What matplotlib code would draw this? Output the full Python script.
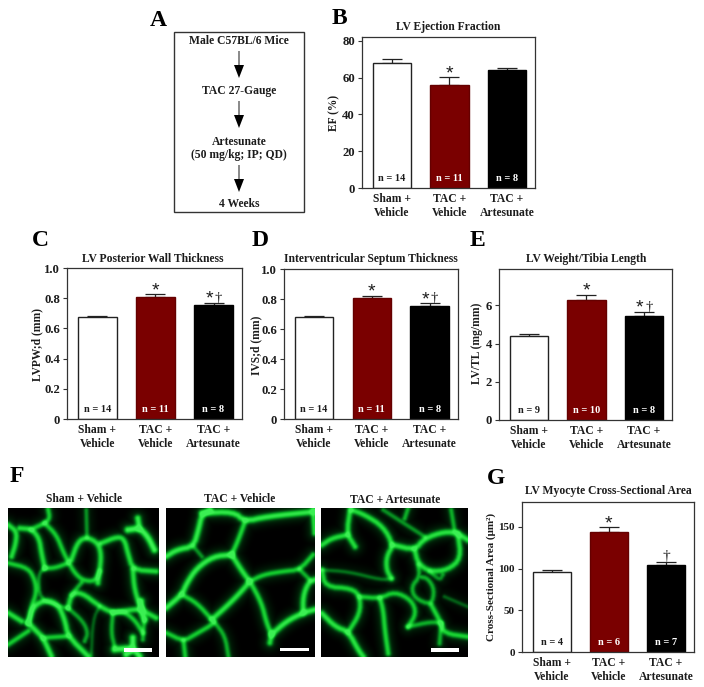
import numpy as np
import matplotlib
matplotlib.use("Agg")
import matplotlib.pyplot as plt
from matplotlib.colors import LinearSegmentedColormap
from matplotlib.patches import Rectangle, FancyArrow

W, H = 704, 687
plt.rcParams['font.family'] = ['Liberation Serif', 'DejaVu Serif']
plt.rcParams['font.weight'] = 'bold'
INK = '#1c1c1c'

# ---- data ----
groups_abc = ["Sham +\nVehicle", "TAC +\nVehicle", "TAC +\nArtesunate"]

ef_mean = [68, 56, 64]
ef_err = [1.8, 4.2, 1.4]
ef_n = ["n = 14", "n = 11", "n = 8"]
ef_marks = ["", "*", ""]

lvpw_mean = [0.675, 0.805, 0.752]
lvpw_err = [0.01, 0.02, 0.018]
lvpw_n = ["n = 14", "n = 11", "n = 8"]
lvpw_marks = ["", "*", "*†"]

ivs_mean = [0.68, 0.805, 0.755]
ivs_err = [0.01, 0.017, 0.017]
ivs_n = ["n = 14", "n = 11", "n = 8"]
ivs_marks = ["", "*", "*†"]

lvtl_mean = [4.4, 6.3, 5.43]
lvtl_err = [0.09, 0.25, 0.24]
lvtl_n = ["n = 9", "n = 10", "n = 8"]
lvtl_marks = ["", "*", "*†"]

area_mean = [96, 144.5, 105]
area_err = [2, 5, 2.5]
area_n = ["n = 4", "n = 6", "n = 7"]
area_marks = ["", "*", "†"]

bar_faces = ['white', '#7a0000', 'black']
bar_edges = ['#222222', '#650000', 'black']
n_colors = [INK, 'white', 'white']

flow_steps = ["Male C57BL/6 Mice", "TAC 27-Gauge", "Artesunate\n(50 mg/kg; IP; QD)", "4 Weeks"]

# membrane traces of the micrographs: (brightness, polyline) in zoom-crop pixels
cells_sham = [
 (.7,[(25,75),(50,95),(48,130),(35,170)]),
 (.7,[(60,85),(95,88),(118,115),(125,160),(135,205)]),
 (.6,[(95,88),(135,70),(150,55),(145,28)]),
 (.6,[(135,70),(170,105),(190,155),(205,185),(225,220),(250,242),(285,245),(300,215)]),
 (.6,[(135,205),(165,205),(205,190)]),
 (.7,[(215,180),(235,125),(262,112),(295,130),(305,165),(300,215),(295,250)]),
 (.4,[(262,112),(260,30)]),
 (.7,[(305,130),(355,110),(375,120),(385,160),(400,210),(470,215)]),
 (.9,[(385,90),(420,85),(445,110),(465,150)]),
 (.8,[(420,85),(415,55)]),
 (.7,[(400,210),(405,270),(425,330),(470,355)]),
 (.9,[(425,305),(425,335),(435,360)]),
 (.5,[(435,360),(430,420)]),
 (.6,[(25,190),(85,205),(105,240),(110,280),(95,320),(90,355),(85,370)]),
 (.35,[(135,205),(115,225),(120,300),(180,320),(205,325)]),
 (.7,[(205,325),(215,285),(245,278),(300,320),(340,340),(400,330),(425,330)]),
 (.5,[(245,250),(215,285)]),
 (.75,[(85,370),(100,320),(140,300),(175,315),(195,360),(205,410),(265,470)]),
 (.45,[(205,325),(250,365),(265,400),(255,425)]),
 (.75,[(85,370),(110,395),(130,415),(155,470)]),
 (.6,[(130,415),(205,410)]),
 (.6,[(25,435),(85,395)]),
 (.7,[(25,340),(65,365)]),
 (.5,[(340,340),(335,400),(345,440)]),
 (.6,[(340,340),(370,335),(405,360),(430,400)]),
 (.9,[(345,450),(400,445),(420,470)]),
 (.9,[(400,415),(400,450),(380,465)]),
 (.25,[(300,320),(280,360),(275,470)]),
]
cells_tac = [
 (.8,[(18,170),(50,150),(100,140),(115,90),(125,45),(150,30)]),
 (.8,[(125,40),(220,35),(255,65),(320,50),(465,35)]),
 (.65,[(255,65),(235,120),(215,165)]),
 (.4,[(100,140),(125,170)]),
 (.8,[(215,165),(160,170),(110,205),(80,250),(65,285),(18,325)]),
 (.75,[(215,165),(250,220),(270,245),(240,280),(200,320),(155,360)]),
 (.6,[(65,285),(110,310),(155,360),(165,370),(105,405),(70,425),(18,400)]),
 (.6,[(270,245),(310,225),(370,215),(420,210),(460,165)]),
 (.65,[(270,245),(305,310),(320,370),(335,405)]),
 (.8,[(335,405),(380,365),(430,340),(465,330)]),
 (.75,[(430,340),(430,290),(445,250),(465,240)]),
 (.5,[(420,210),(450,240)]),
 (.7,[(335,405),(330,430)]),
 (.6,[(70,425),(75,470)]),
 (.5,[(165,370),(195,410),(205,470)]),
 (.7,[(460,30),(465,100)]),
]
cells_art = [
 (.7,[(105,60),(95,130),(120,170)]),
 (.7,[(20,165),(50,145),(95,135)]),
 (.7,[(110,60),(150,75),(205,110),(235,165),(215,200),(215,240),(230,265)]),
 (.75,[(235,165),(300,180),(330,145),(390,125),(430,130),(460,150)]),
 (.7,[(300,180),(310,220),(345,245),(400,240),(440,205),(430,130)]),
 (.5,[(280,55),(270,85)]),
 (.4,[(205,60),(330,140)]),
 (.5,[(410,60),(420,120)]),
 (.4,[(345,245),(375,270),(385,255)]),
 (.5,[(310,225),(315,260),(290,290),(300,325),(350,345),(360,300),(340,265),(315,260)]),
 (.3,[(20,240),(100,245),(200,270),(230,265)]),
 (.65,[(20,240),(30,290),(110,295),(135,320),(135,370),(100,425)]),
 (.6,[(135,320),(195,325),(240,305),(290,330),(305,370),(280,410)]),
 (.65,[(195,325),(205,360),(210,420),(220,490)]),
 (.75,[(20,370),(60,410),(100,425),(130,480),(145,500)]),
 (.65,[(350,345),(380,400),(390,430),(460,440)]),
 (.5,[(280,410),(350,395),(380,400)]),
 (.5,[(380,400),(375,460)]),
 (.25,[(390,320),(460,350)]),
]

fig = plt.figure(figsize=(W/100, H/100), dpi=100, facecolor='white')


def px_axes(l, t, r, b):
    return fig.add_axes([l/W, 1-b/H, (r-l)/W, (b-t)/H])


def px_text(x, y, s, **kw):
    kw.setdefault('ha', 'center')
    kw.setdefault('va', 'center')
    kw.setdefault('color', INK)
    kw.setdefault('fontsize', 8.8)
    return fig.text(x/W, 1-y/H, s, **kw)


def bar_panel(box, means, errs, ns, marks, ylim, ticks, ticklabels, title, title_xy, ylabel, ylabel_xy,
              tick_fs=9.2, ylabel_fs=8.3):
    l, t, r, b = box
    ax = px_axes(l, t, r, b)
    xs = np.arange(len(means))
    ax.bar(xs, means, width=0.67, color=bar_faces, edgecolor=bar_edges, linewidth=1.0, zorder=2)
    ax.errorbar(xs, means, yerr=[np.zeros(len(errs)), errs], fmt='none', ecolor='#222222',
                elinewidth=0.9, capsize=7, capthick=0.9, zorder=1)
    ax.set_xlim(-0.52, 2.49)
    ax.set_ylim(*ylim)
    ax.set_yticks(ticks)
    ax.set_yticklabels(ticklabels, fontsize=tick_fs, color=INK)
    ax.tick_params(axis='y', length=3, width=0.8, pad=2, color='#333333')
    ax.set_xticks(xs)
    ax.set_xticklabels(groups_abc, fontsize=8.4, color=INK, linespacing=1.2)
    ax.tick_params(axis='x', length=0, pad=3.5)
    for s in ax.spines.values():
        s.set_linewidth(0.9)
        s.set_color('#333333')
    for x, n, c in zip(xs, ns, n_colors):
        ax.annotate(n, (x, 0), xytext=(0, 5), textcoords='offset pixels', ha='center', va='bottom',
                    fontsize=7.5, color=c, zorder=3)
    for x, m, e, mk in zip(xs, means, errs, marks):
        if not mk:
            continue
        top = m + e
        if mk == '*':
            ax.annotate('*', (x, top), xytext=(0, -5), textcoords='offset pixels', ha='center', va='bottom',
                        fontsize=14, fontweight='normal', family='Liberation Sans', color=INK)
        elif mk == '*†':
            ax.annotate('*', (x, top), xytext=(-4, -5), textcoords='offset pixels', ha='center', va='bottom',
                        fontsize=14, fontweight='normal', family='Liberation Sans', color=INK)
            ax.annotate('†', (x, top), xytext=(5, -2), textcoords='offset pixels', ha='center', va='bottom',
                        fontsize=10.5, fontweight='normal', color=INK)
        else:
            ax.annotate('†', (x, top), xytext=(0, -1), textcoords='offset pixels', ha='center', va='bottom',
                        fontsize=11, fontweight='normal', color=INK)
    px_text(*title_xy, title, fontsize=8.4)
    px_text(*ylabel_xy, ylabel, rotation=90, fontsize=ylabel_fs)
    return ax


def chaikin(pts, rounds=2):
    p = np.asarray(pts, float)
    for _ in range(rounds):
        q = 0.75*p[:-1]+0.25*p[1:]
        r = 0.25*p[:-1]+0.75*p[1:]
        mid = np.empty((2*len(q), 2))
        mid[0::2], mid[1::2] = q, r
        p = np.vstack([p[:1], mid, p[-1:]])
    return p


def micro(box, cells, crop, bar_px):
    l, t, r, b = box
    x0, y0, x1, y1 = crop
    ax = px_axes(l, t, r, b)
    nx, ny = (r-l)*2, (b-t)*2
    gx, gy = np.meshgrid(np.linspace(x0, x1, nx), np.linspace(y0, y1, ny))
    core = np.zeros(gx.shape)
    halo = np.zeros(gx.shape)
    for w, pts in cells:
        sig = 3.5+3.5*w
        line_core = np.zeros(gx.shape)
        line_halo = np.zeros(gx.shape)
        p = chaikin(pts)
        for (ax0, ay0), (ax1, ay1) in zip(p[:-1], p[1:]):
            dx, dy = ax1-ax0, ay1-ay0
            u = np.clip(((gx-ax0)*dx+(gy-ay0)*dy)/(dx*dx+dy*dy+1e-9), 0, 1)
            d2 = (gx-ax0-u*dx)**2+(gy-ay0-u*dy)**2
            line_core = np.maximum(line_core, w*np.exp(-d2/(2*sig**2)))
            line_halo = np.maximum(line_halo, w*np.exp(-d2/(2*17.0**2)))
        core += line_core
        halo = np.maximum(halo, line_halo)
    val = np.clip(core*0.95+0.2*halo, 0, 1)
    cmap = LinearSegmentedColormap.from_list('gfp', ['#000000', '#03701a', '#12c82c', '#3cf053'])
    ax.imshow(val, cmap=cmap, vmin=0, vmax=1, extent=(x0, x1, y1, y0), aspect='auto', interpolation='bilinear')
    ax.set_xticks([])
    ax.set_yticks([])
    for s in ax.spines.values():
        s.set_visible(False)
    bx0, bx1, by0, by1 = bar_px
    ax.add_patch(Rectangle((bx0, by0), bx1-bx0, by1-by0, color='white', lw=0))


# panel A: flow chart
fa = fig.add_axes([0, 0, 1, 1], facecolor='none')
fa.set_xlim(0, W)
fa.set_ylim(H, 0)
fa.axis('off')
fa.add_patch(Rectangle((174, 32), 130, 180, fill=False, ec='#333333', lw=1.0))
px_text(239, 41, flow_steps[0], fontsize=8.4)
px_text(239, 91, flow_steps[1], fontsize=8.4)
px_text(239, 148.5, flow_steps[2], fontsize=8.4, linespacing=1.2)
px_text(239, 204, flow_steps[3], fontsize=8.4)
for y0, y1 in [(51, 78), (101, 128), (165, 192)]:
    fa.add_patch(FancyArrow(239, y0, 0, y1-y0, width=0.9, head_width=10, head_length=13,
                            length_includes_head=True, color='black', lw=0))

# panel letters
for s, x, y in [("A", 158, 20), ("B", 339, 18), ("C", 40, 241), ("D", 260, 241), ("E", 477, 241),
                ("F", 17, 477), ("G", 496, 478)]:
    px_text(x, y, s, fontsize=17, color='black')

# bar panels
bar_panel((362, 37, 535, 188), ef_mean, ef_err, ef_n, ef_marks, (0, 82), [0, 20, 40, 60, 80],
          ['0', '20', '40', '60', '80'], "LV Ejection Fraction", (448, 27), "EF (%)", (334, 113))
bar_panel((67, 268, 242, 419), lvpw_mean, lvpw_err, lvpw_n, lvpw_marks, (0, 1.0), [0, .2, .4, .6, .8, 1.0],
          ['0', '0.2', '0.4', '0.6', '0.8', '1.0'], "LV Posterior Wall Thickness", (153, 259),
          "LVPW;d (mm)", (37, 345))
bar_panel((284, 269, 458, 419), ivs_mean, ivs_err, ivs_n, ivs_marks, (0, 1.0), [0, .2, .4, .6, .8, 1.0],
          ['0', '0.2', '0.4', '0.6', '0.8', '1.0'], "Interventricular Septum Thickness", (371, 259),
          "IVS;d (mm)", (256, 345))
bar_panel((499, 269, 672, 420), lvtl_mean, lvtl_err, lvtl_n, lvtl_marks, (0, 7.9), [0, 2, 4, 6],
          ['0', '2', '4', '6'], "LV Weight/Tibia Length", (586, 259), "LV/TL (mg/mm)", (477, 343))
bar_panel((522, 502, 694, 652), area_mean, area_err, area_n, area_marks, (0, 180), [0, 50, 100, 150],
          ['0', '50', '100', '150'], "LV Myocyte Cross-Sectional Area", (608, 491),
          "Cross-Sectional Area (μm²)", (491, 577), tick_fs=8.0, ylabel_fs=8.0)

# panel F micrographs
micro((8, 508, 159, 657), cells_sham, (25, 25, 478, 472), (372, 457, 445, 456))
micro((166, 508, 315, 657), cells_tac, (18, 25, 465, 472), (361, 446, 444, 455))
micro((321, 508, 468, 657), cells_art, (18, 55, 460, 500), (348, 434, 474, 485))
px_text(84, 499, "Sham + Vehicle", fontsize=8.4)
px_text(240, 499, "TAC + Vehicle", fontsize=8.4)
px_text(395, 500, "TAC + Artesunate", fontsize=8.4)

fig.savefig('out.png', dpi=100, facecolor='white')
